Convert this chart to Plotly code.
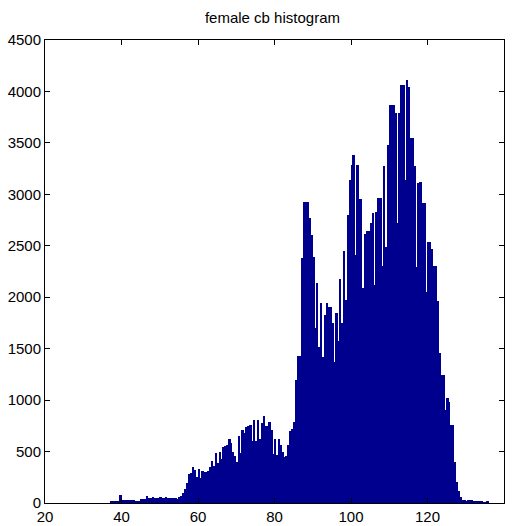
import plotly.graph_objects as go

# Histogram bins (width 0.5), starting at 37.0
bin_start = 37.0
bin_width = 0.5
counts = [
    16, 16, 16, 16, 16, 78, 29, 29, 29, 29,      # 37.0 - 41.5
    29, 29, 29, 23, 23, 23, 39, 39, 39, 70,      # 42.0 - 46.5
    52, 48, 55, 50, 52, 47, 55, 52, 50, 55,      # 47.0 - 51.5
    52, 48, 45, 45, 45, 42, 55, 65, 95, 140,     # 52.0 - 56.5
    190, 280, 290, 350, 320, 250, 335, 240, 310, 300,   # 57.0 - 61.5
    305, 310, 350, 405, 360, 490, 390, 500, 430, 545,   # 62.0 - 66.5
    555, 560, 620, 580, 500, 460, 400, 650, 490, 710,   # 67.0 - 71.5
    680, 740, 745, 760, 600, 805, 600, 805, 620, 780,   # 72.0 - 76.5
    845, 750, 750, 790, 710, 480, 620, 470, 620, 560,   # 77.0 - 81.5
    500, 450, 460, 560, 700, 720, 790, 1200, 1430, 1430,  # 82.0 - 86.5
    2380, 2930, 2930, 2930, 2770, 2600, 2390, 1700, 2135, 1520,  # 87.0 - 91.5
    1940, 1420, 1830, 1947, 1908, 1908, 1753, 1370, 1850, 1570,  # 92.0 - 96.5
    2174, 1750, 2449, 1973, 2800, 3140, 3285, 3383, 2411, 3285,  # 97.0 - 101.5
    2952, 2950, 2087, 2611, 2647, 2647, 2719, 2822, 2119, 2830,  # 102.0 - 106.5
    2968, 2968, 2304, 3279, 2491, 3480, 3868, 3868, 3868, 3788,  # 107.0 - 111.5
    2719, 3788, 4063, 4063, 3140, 4112, 4040, 3545, 3545, 3279,  # 112.0 - 116.5
    2297, 3107, 3123, 2913, 2913, 2054, 2540, 2540, 2466, 2304,  # 117.0 - 121.5
    2304, 1963, 1455, 1244, 1244, 900, 1017, 985, 758, 758,      # 122.0 - 126.5
    400, 207, 120, 62, 30, 25, 16, 30, 30, 30,                   # 127.0 - 131.5
    16, 16, 16, 16, 16, 8, 8, 20,                                # 132.0 - 135.5
]
x_ticks = [20, 40, 60, 80, 100, 120, 140]
y_ticks = [0, 500, 1000, 1500, 2000, 2500, 3000, 3500, 4000, 4500]

centers = [bin_start + bin_width * (i + 0.5) for i in range(len(counts))]

font_family = "Liberation Sans Narrow, Arial Narrow, Liberation Sans, sans-serif"

fig = go.Figure(
    go.Bar(
        x=centers,
        y=counts,
        width=bin_width,
        marker=dict(color="rgb(0,0,143)", line=dict(width=0)),
    )
)

fig.update_layout(
    width=516,
    height=526,
    margin=dict(l=45, r=12, t=40, b=23),
    paper_bgcolor="white",
    plot_bgcolor="white",
    bargap=0,
    showlegend=False,
    font=dict(family=font_family, size=16, color="black"),
    title=dict(
        text="female cb histogram",
        x=0.528,
        xanchor="center",
        y=0.966,
        yanchor="middle",
        font=dict(family=font_family, size=15, color="black"),
    ),
)

fig.update_xaxes(
    range=[20, 140],
    tickvals=x_ticks,
    ticktext=[str(v) for v in x_ticks],
    ticks="inside",
    ticklen=5,
    tickcolor="black",
    tickfont=dict(size=15),
    ticklabelstandoff=0,
    showline=True,
    linecolor="black",
    linewidth=1,
    mirror="ticks",
    showgrid=False,
    zeroline=False,
    automargin=False,
)
fig.update_yaxes(
    range=[0, 4500],
    tickvals=y_ticks,
    ticktext=[str(v) for v in y_ticks],
    ticks="inside",
    ticklen=5,
    tickcolor="black",
    tickfont=dict(size=15),
    showline=True,
    linecolor="black",
    linewidth=1,
    mirror="ticks",
    showgrid=False,
    zeroline=False,
    automargin=False,
)

fig.write_html("out.html")
